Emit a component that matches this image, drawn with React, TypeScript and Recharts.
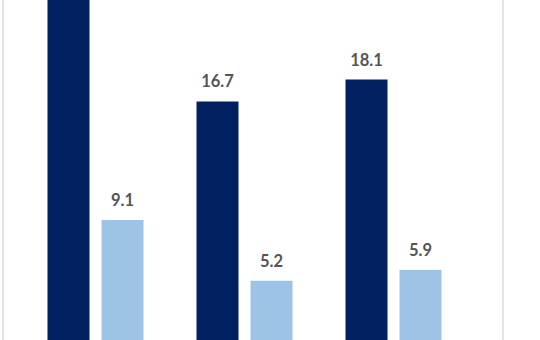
import { BarChart, Bar, XAxis, YAxis, LabelList } from "recharts";

const groups = ["A", "B", "C"];
const darkValues = [26.0, 16.7, 18.1];
const lightValues = [9.1, 5.2, 5.9];
const yMax = 23.2;

const data = groups.map((g, i) => ({
  group: g,
  dark: darkValues[i],
  light: lightValues[i],
}));

// labels above the visible area are not drawn (bar runs off the top)
function TopLabel(props: any) {
  const { x, y, width, value } = props;
  if (value > yMax) return null;
  return (
    <text
      x={x + width / 2}
      y={y - 14}
      textAnchor="middle"
      fill="#555555"
      fontSize={16.5}
      fontWeight={700}
      fontFamily="Lato, sans-serif"
    >
      {value}
    </text>
  );
}

export default function App() {
  return (
    <div
      style={{
        position: "absolute",
        left: 0,
        top: 0,
        width: 540,
        height: 340,
        overflow: "hidden",
        background: "#fff",
      }}
    >
      <div
        style={{
          position: "absolute",
          left: 2,
          top: 0,
          width: 498,
          height: 340,
          borderLeft: "2px solid #e4e4e4",
          borderRight: "2px solid #e4e4e4",
        }}
      />
      <BarChart
        width={540}
        height={362}
        data={data}
        margin={{ top: 0, right: 72.5, left: 20.5, bottom: 0 }}
        barSize={42}
        barGap={12}
        style={{ position: "absolute", left: 0, top: 0 }}
      >
        <XAxis dataKey="group" hide />
        <YAxis hide domain={[0, yMax]} allowDataOverflow />
        <Bar dataKey="dark" fill="#002060" isAnimationActive={false}>
          <LabelList dataKey="dark" content={<TopLabel />} />
        </Bar>
        <Bar dataKey="light" fill="#9dc3e6" isAnimationActive={false}>
          <LabelList dataKey="light" content={<TopLabel />} />
        </Bar>
      </BarChart>
    </div>
  );
}
